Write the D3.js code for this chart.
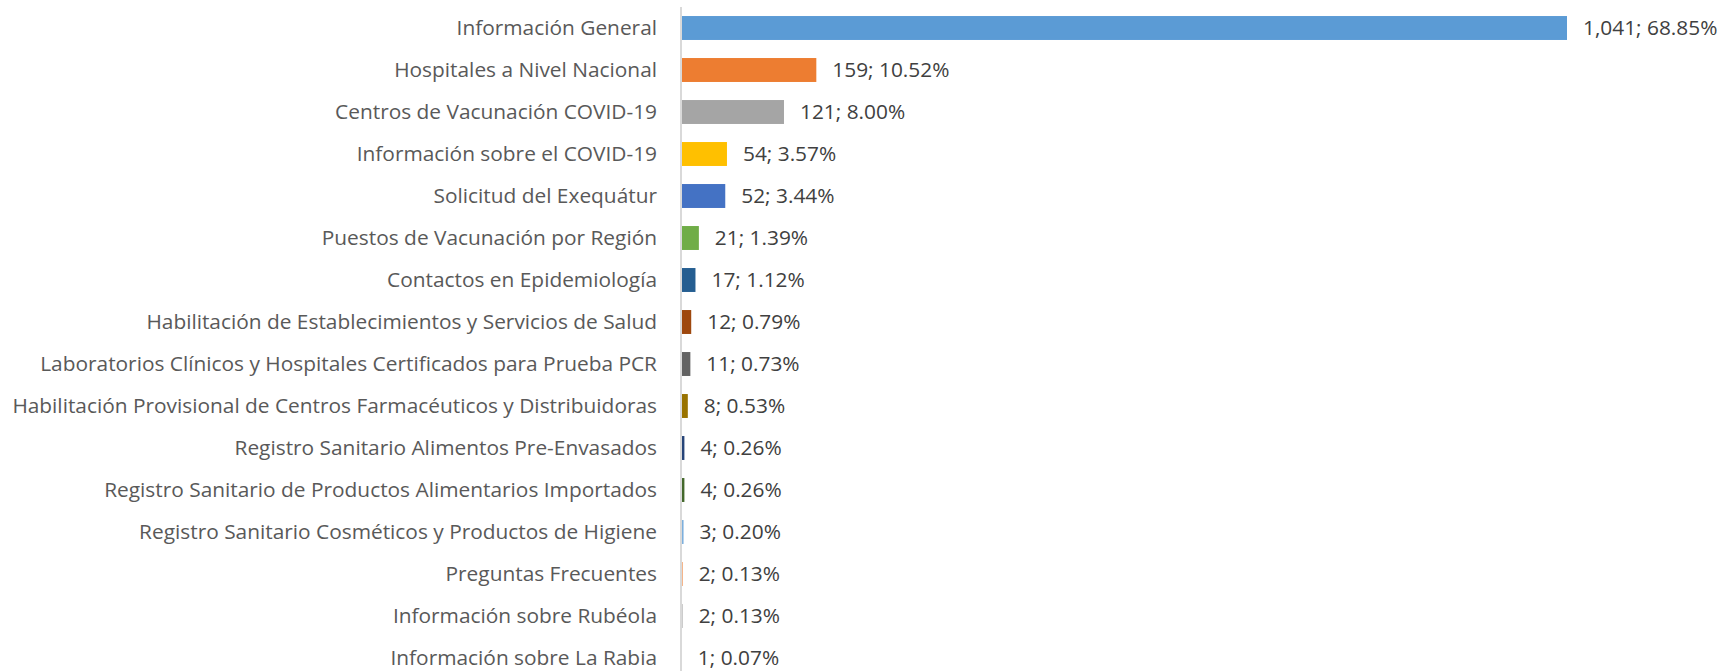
<!DOCTYPE html>
<html>
<head>
<meta charset="utf-8">
<script src="https://cdn.jsdelivr.net/npm/d3@7"></script>
<style>
  body { margin: 0; background: #fff; }
  text { font-family: "Open Sans", sans-serif; }
</style>
</head>
<body>
<svg id="chart"></svg>
<script>
// Width and height of the picture
var width = 1725, height = 671;

// categories, top to bottom
var categories = [
  "Información General",
  "Hospitales a Nivel Nacional",
  "Centros de Vacunación COVID-19",
  "Información sobre el COVID-19",
  "Solicitud del Exequátur",
  "Puestos de Vacunación por Región",
  "Contactos en Epidemiología",
  "Habilitación de Establecimientos y Servicios de Salud",
  "Laboratorios Clínicos y Hospitales Certificados para Prueba PCR",
  "Habilitación Provisional de Centros Farmacéuticos y Distribuidoras",
  "Registro Sanitario Alimentos Pre-Envasados",
  "Registro Sanitario de Productos Alimentarios Importados",
  "Registro Sanitario Cosméticos y Productos de Higiene",
  "Preguntas Frecuentes",
  "Información sobre Rubéola",
  "Información sobre La Rabia"
];
var counts = [1041, 159, 121, 54, 52, 21, 17, 12, 11, 8, 4, 4, 3, 2, 2, 1];
var percents = ["68.85%", "10.52%", "8.00%", "3.57%", "3.44%", "1.39%", "1.12%", "0.79%",
                "0.73%", "0.53%", "0.26%", "0.26%", "0.20%", "0.13%", "0.13%", "0.07%"];
var colors = ["#5B9BD5", "#ED7D31", "#A5A5A5", "#FFC000", "#4472C4", "#70AD47", "#255E91", "#9E480E",
              "#636363", "#997300", "#264478", "#43682B", "#7CAFDD", "#F1975A", "#B7B7B7", "#FFCD33"];

var rows = categories.map(function(c, i) {
  return { name: c, count: counts[i], pct: percents[i], color: colors[i] };
});

var svg = d3.select("#chart")
  .attr("width", width)
  .attr("height", height);

var x0 = 681;
var x = d3.scaleLinear().domain([0, 1041]).range([x0, 1567]);
var y = d3.scaleBand().domain(categories).range([7, 7 + 42 * 16]).paddingInner(0.43).paddingOuter(0.215);

// bars
svg.append("g")
  .selectAll("rect")
  .data(rows)
  .enter().append("rect")
  .attr("x", x(0))
  .attr("y", function(d) { return y(d.name); })
  .attr("width", function(d) { return x(d.count) - x(0); })
  .attr("height", y.bandwidth())
  .attr("fill", function(d) { return d.color; });

// axis line
svg.append("line")
  .attr("x1", x0).attr("x2", x0)
  .attr("y1", 7).attr("y2", height)
  .attr("stroke", "#d9d9d9")
  .attr("stroke-width", 2);

// category labels
var labels = svg.append("g")
  .selectAll("text")
  .data(rows)
  .enter().append("text")
  .attr("x", 657)
  .attr("y", function(d) { return y(d.name) + y.bandwidth() / 2; })
  .attr("dy", "0.35em")
  .attr("text-anchor", "end")
  .style("font-size", "19px")
  .attr("fill", "#595959")
  .text(function(d) { return d.name; });

// size the labels so the longest one fills the left margin like the original
var longest = d3.max(labels.nodes(), function(n) { return n.getComputedTextLength(); });
var fs = 19 * 645 / longest;
labels.style("font-size", fs + "px");

// value labels
svg.append("g")
  .selectAll("text")
  .data(rows)
  .enter().append("text")
  .attr("x", function(d) { return x(d.count) + 16; })
  .attr("y", function(d) { return y(d.name) + y.bandwidth() / 2; })
  .attr("dy", "0.35em")
  .style("font-size", fs + "px")
  .attr("fill", "#404040")
  .text(function(d) { return d3.format(",")(d.count) + "; " + d.pct; });
</script>
</body>
</html>
